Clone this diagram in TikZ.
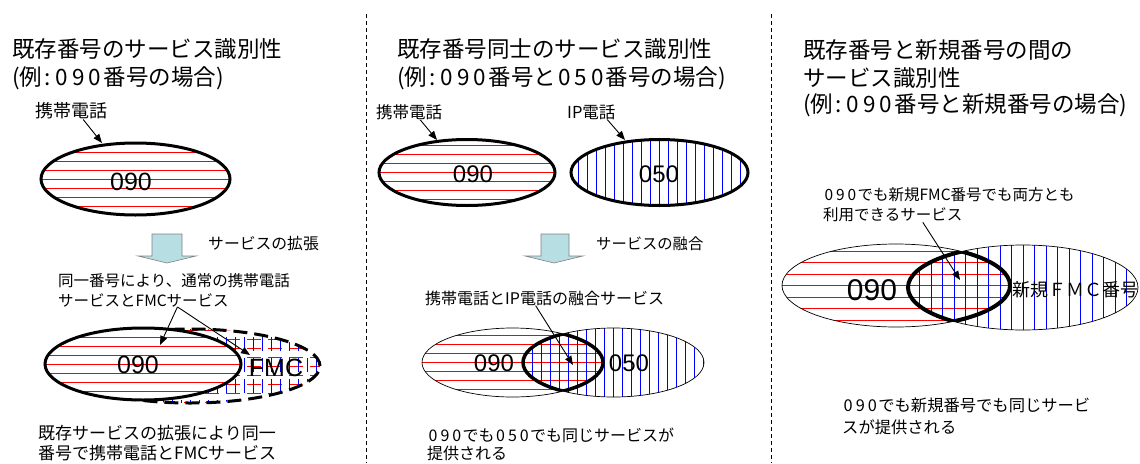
\documentclass[tikz,border=0pt]{standalone}
\usepackage{fontspec}
\setmainfont{Noto Sans CJK JP}
\newfontfamily\arialf{Liberation Sans}
\usetikzlibrary{arrows.meta,shapes.geometric}
\definecolor{barrow}{RGB}{183,222,226}
\newcommand\dg[1]{\makebox[0.74em]{#1}}
\newcommand\cln{\makebox[0.5em]{:}}
\tikzset{
  title/.style={font=\fontsize{22.5}{27}\selectfont, anchor=west, inner sep=0pt},
  txt/.style={font=\fontsize{#1}{#1}\selectfont, anchor=west, inner sep=0pt},
  txt/.default=15.5,
  num/.style={font=\arialf\fontsize{#1}{#1}\selectfont, inner sep=0pt},
  ell/.style={ellipse, inner sep=0pt, outer sep=0pt},
  hatchH/.style={path picture={\foreach \k in {-10,...,10}{\draw[red,line width=0.9pt] ([shift={(-300pt,\k*#1)}]path picture bounding box.center) -- ++(600pt,0pt);}}},
  hatchV/.style={path picture={\foreach \k in {-16,...,16}{\draw[blue,line width=0.9pt] ([shift={(\k*#1,-300pt)}]path picture bounding box.center) -- ++(0pt,600pt);}}},
  hatchHV/.style={path picture={\foreach \k in {-10,...,10}{\draw[red,line width=0.9pt] ([shift={(-300pt,\k*#1)}]path picture bounding box.center) -- ++(600pt,0pt);}\foreach \k in {-16,...,16}{\draw[blue,line width=0.9pt] ([shift={(\k*#1,-300pt)}]path picture bounding box.center) -- ++(0pt,600pt);}}},
  arr/.style={-{Triangle[length=9pt,width=7pt]}, line width=0.9pt},
  sep/.style={line width=0.8pt, dash pattern=on 4pt off 3pt},
  blockarrow/.style={fill=barrow, draw=gray, line width=0.6pt},
}
\begin{document}
\begin{tikzpicture}[x=1pt,y=-1pt]
\useasboundingbox (0,0) rectangle (1140,463);

% separators
\coordinate (s1t) at (366,14); \coordinate (s1b) at (366,463);
\coordinate (s2t) at (771,14); \coordinate (s2b) at (771,463);
\draw[sep] (s1t) -- (s1b);
\draw[sep] (s2t) -- (s2b);

% ================= Panel 1 =================
\node[title] (t1a) at (12,49) {既存番号のサービス識別性};
\node[title] (t1b) at (12,78) {(例\cln\dg{0}\dg{9}\dg{0}番号の場合)};
\node[txt=18] (lab1) at (35,111) {携帯電話};
\node[ell, draw, line width=3pt, fill=white, hatchH=9pt, minimum width=189pt, minimum height=72pt] (e1) at (135.5,179) {};
\node[num=25] (n1) at (131,182) {090};
\coordinate (p1t) at (102,143);
\draw[arr] ([xshift=12pt]lab1.south) -- (p1t);

\draw[blockarrow] (152,234) -- (182,234) -- (182,256) -- (196,256) -- (167,263) -- (138,256) -- (152,256) -- cycle;
\node[txt=15.8] (ex1) at (208,244) {サービスの拡張};

\node[txt] (t1c) at (58,281) {同一番号により、通常の携帯電話};
\node[txt] (t1d) at (58,300) {サービスとFMCサービス};

\node[ell, draw, line width=3pt, dash pattern=on 14pt off 7pt, hatchHV=9pt, minimum width=260pt, minimum height=74pt] (fmc) at (190,366) {};
\node[ell, draw, line width=3pt, fill=white, hatchH=9pt, minimum width=196pt, minimum height=72pt] (e1b) at (143,364) {};
\node[num=25] (n1b) at (138,365) {090};
\node[num=25] (n1c) at (276,368) {FMC};
\coordinate (p1a) at (160,345);
\coordinate (p1b) at (250,355);
\draw[arr] ([xshift=34pt]t1d.south) -- (p1a);
\draw[arr] ([xshift=34pt]t1d.south) -- (p1b);

\node[txt=17] (t1e) at (38,433) {既存サービスの拡張により同一};
\node[txt=17] (t1f) at (38,453) {番号で携帯電話とFMCサービス};

% ================= Panel 2 =================
\node[title] (t2a) at (397,49) {既存番号同士のサービス識別性};
\node[title] (t2b) at (397,78) {(例\cln\dg{0}\dg{9}\dg{0}番号と\dg{0}\dg{5}\dg{0}番号の場合)};
\node[txt=16.5] (lab2a) at (376,112) {携帯電話};
\node[txt=16.5] (lab2b) at (567,112) {IP電話};
\node[ell, draw, line width=3pt, hatchH=9pt, minimum width=176pt, minimum height=66pt] (e2a) at (467,172.5) {};
\node[ell, draw, line width=3pt, hatchV=9pt, minimum width=177pt, minimum height=66pt] (e2b) at (659.5,172.5) {};
\node[num=24] (n2a) at (473,174) {090};
\node[num=24] (n2b) at (659,174) {050};
\coordinate (p2a) at (437,140);
\coordinate (p2b) at (625,140);
\draw[arr] ([xshift=11pt]lab2a.south) -- (p2a);
\draw[arr] ([xshift=16pt]lab2b.south) -- (p2b);

\draw[blockarrow] (541,234) -- (569,234) -- (569,256) -- (583,256) -- (554,263) -- (525,256) -- (541,256) -- cycle;
\node[txt=15.3] (ex2) at (596,244) {サービスの融合};

\node[txt=16] (t2c) at (425,298) {携帯電話とIP電話の融合サービス};

\node[ell, draw, line width=0.7pt, hatchH=9pt, minimum width=181pt, minimum height=69pt] (e2c) at (512.5,362.5) {};
\node[ell, draw, line width=0.7pt, hatchV=9pt, minimum width=181pt, minimum height=69pt] (e2d) at (613.5,362.5) {};
\begin{scope}
  \clip (e2c.center) ellipse [x radius=90.5pt, y radius=34.5pt];
  \draw[line width=3.5pt] (e2d.center) ellipse [x radius=90.5pt, y radius=34.5pt];
\end{scope}
\begin{scope}
  \clip (e2d.center) ellipse [x radius=90.5pt, y radius=34.5pt];
  \draw[line width=3.5pt] (e2c.center) ellipse [x radius=90.5pt, y radius=34.5pt];
\end{scope}
\node[num=24] (n2c) at (494,363) {090};
\node[num=24] (n2d) at (629,363) {050};
\coordinate (p2c) at (573,365);
\draw[arr] ([xshift=-9pt]t2c.south) -- (p2c);

\node[txt=16] (t2d) at (427,435) {\dg{0}\dg{9}\dg{0}でも\dg{0}\dg{5}\dg{0}でも同じサービスが};
\node[txt=16] (t2e) at (427,453) {提供される};

% ================= Panel 3 =================
\node[title] (t3a) at (803,50) {既存番号と新規番号の間の};
\node[title] (t3b) at (803,78) {サービス識別性};
\node[title] (t3c) at (803,105) {(例\cln\dg{0}\dg{9}\dg{0}番号と新規番号の場合)};

\node[txt=15.5] (t3d) at (823,195) {\dg{0}\dg{9}\dg{0}でも新規FMC番号でも両方とも};
\node[txt=15.5] (t3e) at (823,215) {利用できるサービス};

\node[ell, draw, line width=0.7pt, hatchH=11.5pt, minimum width=228pt, minimum height=83pt] (e3a) at (896,285.5) {};
\node[ell, draw, line width=0.7pt, hatchV=11.5pt, minimum width=230pt, minimum height=85pt] (e3b) at (1023,287.5) {};
\begin{scope}
  \clip (e3a.center) ellipse [x radius=114pt, y radius=41.5pt];
  \draw[line width=4pt] (e3b.center) ellipse [x radius=115pt, y radius=42.5pt];
\end{scope}
\begin{scope}
  \clip (e3b.center) ellipse [x radius=115pt, y radius=42.5pt];
  \draw[line width=4pt] (e3a.center) ellipse [x radius=114pt, y radius=41.5pt];
\end{scope}
\node[num=30] (n3a) at (872,290) {090};
\node[font=\fontsize{18}{18}\selectfont, inner sep=0pt] (n3b) at (1075,290) {新規ＦＭＣ番号};
\coordinate (p3a) at (960,280);
\draw[arr] ([xshift=30pt]t3e.south) -- (p3a);

\node[txt=16.3] (t3f) at (842,405) {\dg{0}\dg{9}\dg{0}でも新規番号でも同じサービ};
\node[txt=16.3] (t3g) at (842,427) {スが提供される};
\end{tikzpicture}
\end{document}
